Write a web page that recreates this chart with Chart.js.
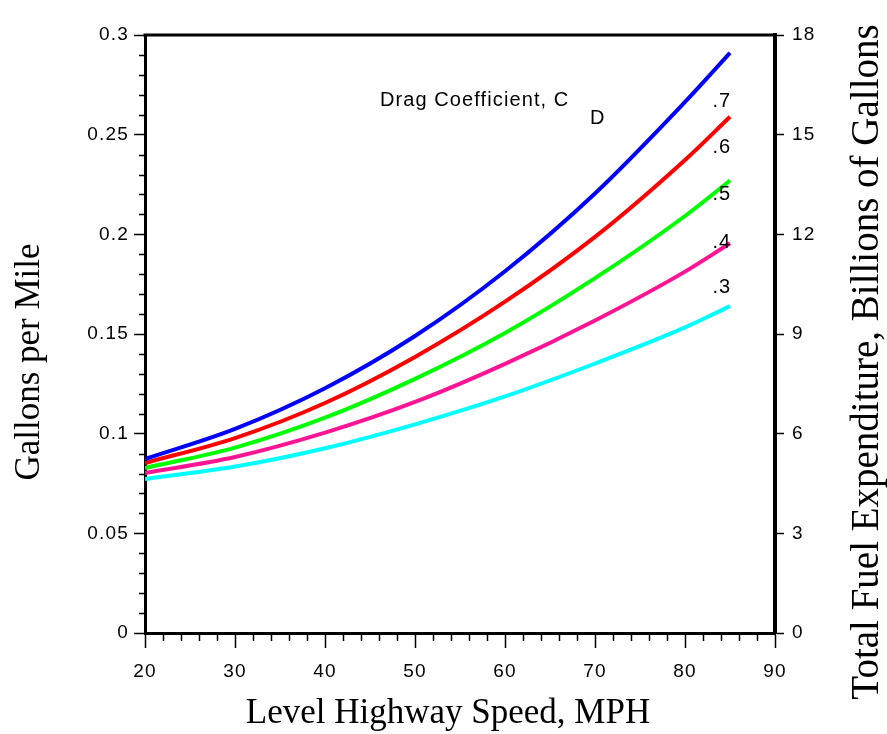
<!DOCTYPE html>
<html><head><meta charset="utf-8">
<script src="https://cdn.jsdelivr.net/npm/chart.js@4"></script>
<style>html,body{margin:0;padding:0;background:#fff}#wrap{width:887px;height:734px;position:relative}</style>
</head><body><div id="wrap"><canvas id="c" width="887" height="734"></canvas></div>
<script>
// ---- data ----
const speeds = [20, 30, 40, 50, 60, 70, 80, 85];
const cd7 = [0.0873, 0.1024, 0.1228, 0.1490, 0.1815, 0.2205, 0.2664, 0.2910];
const cd6 = [0.0853, 0.0978, 0.1154, 0.1385, 0.1662, 0.1987, 0.2373, 0.2590];
const cd5 = [0.0828, 0.0930, 0.1080, 0.1275, 0.1505, 0.1780, 0.2092, 0.2270];
const cd4 = [0.0803, 0.0883, 0.1005, 0.1159, 0.1350, 0.1568, 0.1813, 0.1955];
const cd3 = [0.0773, 0.0835, 0.0927, 0.1047, 0.1187, 0.1352, 0.1533, 0.1640];
const seriesNames = ['.7', '.6', '.5', '.4', '.3'];
const seriesLabelY = [0.2664, 0.2434, 0.2198, 0.1957, 0.1731];
const seriesLabelX = 84.1;
const xTickValues = [20, 30, 40, 50, 60, 70, 80, 90];
const yLeftTickValues = [0, 0.05, 0.1, 0.15, 0.2, 0.25, 0.3];
const yRightTickValues = [0, 3, 6, 9, 12, 15, 18];
const annotationText = 'Drag Coefficient, C';
const annotationSub = 'D';
const annotationPos = {x: 46.1, y: 0.2669};
const annotationSubPos = {x: 70.3, y: 0.2579};
const yTitle = 'Gallons per Mile';
const y2Title = 'Total Fuel Expenditure, Billions of Gallons';
const xTitle = 'Level Highway Speed, MPH';

const colors = ['#0000ff', '#ff0000', '#00ff00', '#ff1493', '#00ffff'];
const allSeries = [cd7, cd6, cd5, cd4, cd3];

const SANS = '"Liberation Sans", Arial, sans-serif';
const SERIF = '"Liberation Serif", "Times New Roman", serif';
const TICK_SPACING = '1.2px';

const extras = {
  id: 'extras',
  beforeUpdate(chart) { chart.ctx.letterSpacing = TICK_SPACING; },
  beforeDraw(chart) { chart.ctx.letterSpacing = TICK_SPACING; },
  afterDraw(chart) {
    const {ctx, chartArea: a, scales: {x, y}} = chart;
    ctx.save();
    ctx.strokeStyle = '#000';
    // top frame line
    ctx.lineWidth = 3;
    ctx.beginPath();
    ctx.moveTo(a.left - 1.5, a.top);
    ctx.lineTo(a.right + 2, a.top);
    ctx.stroke();
    // minor ticks
    ctx.lineWidth = 1.5;
    ctx.beginPath();
    for (let i = 0; i <= 30; i++) {
      if (i % 5 === 0) continue;
      const py = Math.round(y.getPixelForValue(i / 100)) + 0.5;
      ctx.moveTo(a.left - 1, py);
      ctx.lineTo(a.left - 6, py);
    }
    for (let v = 20; v <= 90; v += 2) {
      if (v % 10 === 0) continue;
      const px = Math.round(x.getPixelForValue(v)) + 0.5;
      ctx.moveTo(px, a.bottom + 1);
      ctx.lineTo(px, a.bottom + 8);
    }
    ctx.stroke();
    // series labels
    ctx.fillStyle = '#000';
    ctx.letterSpacing = '1px';
    ctx.font = '20px ' + SANS;
    ctx.textAlign = 'center';
    ctx.textBaseline = 'middle';
    seriesNames.forEach((n, i) => {
      ctx.fillText(n, x.getPixelForValue(seriesLabelX), y.getPixelForValue(seriesLabelY[i]));
    });
    ctx.textAlign = 'left';
    ctx.letterSpacing = '1.1px';
    ctx.fillText(annotationText, x.getPixelForValue(annotationPos.x), y.getPixelForValue(annotationPos.y));
    ctx.textAlign = 'center';
    ctx.fillText(annotationSub, x.getPixelForValue(annotationSubPos.x), y.getPixelForValue(annotationSubPos.y));
    // axis titles
    ctx.letterSpacing = '0px';
    ctx.font = '35px ' + SERIF;
    ctx.textAlign = 'center';
    ctx.textBaseline = 'middle';
    ctx.fillText(xTitle, 448, 714);
    ctx.save();
    ctx.translate(30, 362);
    ctx.rotate(-Math.PI / 2);
    ctx.fillText(yTitle, 0, 0);
    ctx.restore();
    ctx.save();
    ctx.font = '39px ' + SERIF;
    ctx.translate(868, 362);
    ctx.rotate(-Math.PI / 2);
    ctx.fillText(y2Title, 0, 0);
    ctx.restore();
    ctx.restore();
  }
};

const tickFont = {family: SANS, size: 19};

new Chart(document.getElementById('c'), {
  type: 'line',
  data: {
    datasets: allSeries.map((s, i) => ({
      label: seriesNames[i],
      data: speeds.map((sp, j) => ({x: sp, y: s[j]})),
      borderColor: colors[i],
      backgroundColor: colors[i],
      borderWidth: 4,
      pointRadius: 0,
      cubicInterpolationMode: 'monotone',
      fill: false,
      yAxisID: 'y'
    }))
  },
  options: {
    responsive: false,
    animation: false,
    devicePixelRatio: 1,
    layout: {padding: {top: 35, left: 0, right: 0, bottom: 0}},
    plugins: {legend: {display: false}, tooltip: {enabled: false}},
    scales: {
      x: {
        type: 'linear', min: 20, max: 90,
        afterFit: s => { s.height = 101; },
        afterBuildTicks: s => { s.ticks = xTickValues.map(v => ({value: v})); },
        grid: {drawOnChartArea: false, tickLength: 15, tickColor: '#000', tickWidth: 1.5},
        border: {color: '#000', width: 3},
        ticks: {color: '#000', font: tickFont, padding: 12, maxRotation: 0}
      },
      y: {
        type: 'linear', position: 'left', min: 0, max: 0.3,
        afterFit: s => { s.width = 145; },
        afterBuildTicks: s => { s.ticks = yLeftTickValues.map(v => ({value: v})); },
        grid: {drawOnChartArea: false, tickLength: 11, tickColor: '#000', tickWidth: 1.5},
        border: {color: '#000', width: 3},
        ticks: {color: '#000', font: tickFont, padding: 5, callback: v => String(Number(v.toFixed(2)))}
      },
      y2: {
        type: 'linear', position: 'right', min: 0, max: 18,
        afterFit: s => { s.width = 112; },
        afterBuildTicks: s => { s.ticks = yRightTickValues.map(v => ({value: v})); },
        grid: {drawOnChartArea: false, tickLength: 9, tickColor: '#000', tickWidth: 1.5},
        border: {color: '#000', width: 4},
        ticks: {color: '#000', font: tickFont, padding: 8}
      }
    }
  },
  plugins: [extras]
});
</script>
</body></html>
